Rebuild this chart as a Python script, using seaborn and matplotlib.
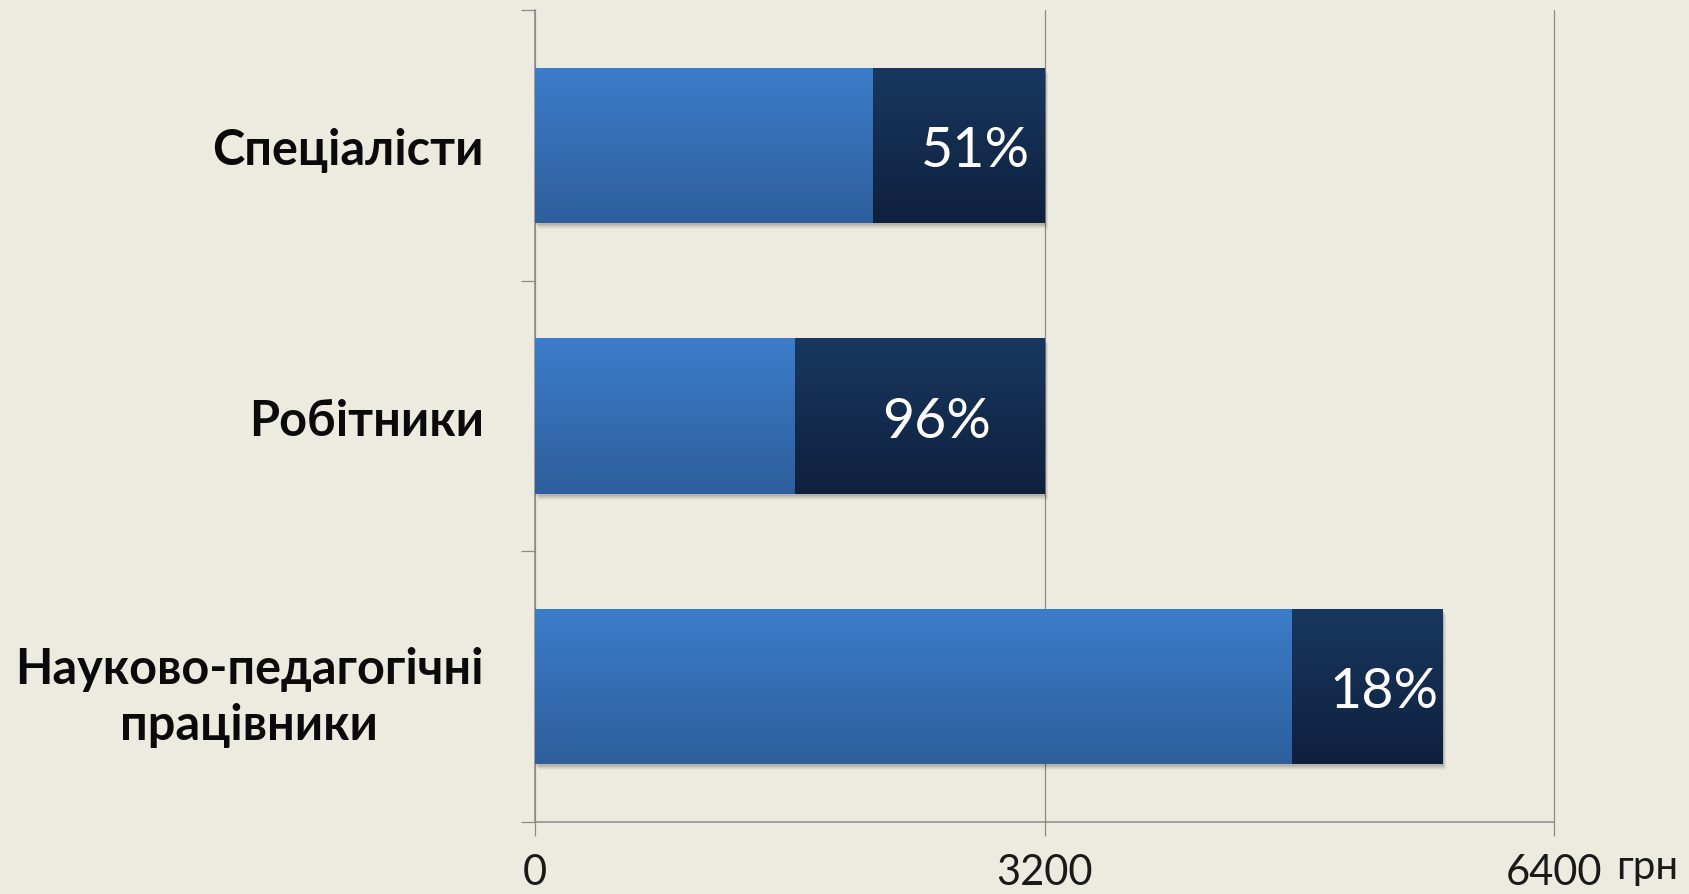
import numpy as np
import pandas as pd
import matplotlib
matplotlib.use("Agg")
import matplotlib.pyplot as plt
import matplotlib.transforms as mtransforms
from matplotlib.patches import Rectangle
import seaborn as sns

# ---- data ----
categories = ["Спеціалісти", "Робітники", "Науково-педагогічні\nпрацівники"]
base_values = [2120, 1630, 4750]      # salary before (light segment end)
total_values = [3200, 3200, 5700]     # salary after (dark segment end)
growth_labels = ["51%", "96%", "18%"]
x_ticks = [0, 3200, 6400]
x_unit = "грн"

BG = "#EDEBE0"
GRID = "#8A8A8A"

sns.set_theme(style="white")
plt.rcParams["font.family"] = ["Lato", "DejaVu Sans"]

fig = plt.figure(figsize=(16.9, 8.95), dpi=100, facecolor=BG)
ax = fig.add_axes([0.3166, 0.0804, 0.6030, 0.9073])
ax.set_facecolor(BG)

df = pd.DataFrame({"cat": categories, "base": base_values, "total": total_values})
BAR_W = 0.573
sns.barplot(data=df, y="cat", x="total", color="#14305A", width=BAR_W,
            saturation=1, ax=ax, zorder=3, linewidth=0)
n_dark = len(ax.patches)
sns.barplot(data=df, y="cat", x="base", color="#3670B8", width=BAR_W,
            saturation=1, ax=ax, zorder=4, linewidth=0)

dark_patches = list(ax.patches[:n_dark])
light_patches = list(ax.patches[n_dark:])


def gradient_fill(patch, top, bottom, z):
    x0, y0 = patch.get_x(), patch.get_y()
    w, h = patch.get_width(), patch.get_height()
    c1 = np.array(matplotlib.colors.to_rgb(top))
    c2 = np.array(matplotlib.colors.to_rgb(bottom))
    t = np.linspace(0, 1, 256)[:, None]
    img = (c1 * (1 - t) + c2 * t)[:, None, :]
    # y axis is inverted: y0 is visually the top edge
    im = ax.imshow(img, extent=(x0, x0 + w, y0 + h, y0), origin="upper",
                   aspect="auto", zorder=z, interpolation="bilinear")
    im.set_clip_path(patch)


# soft drop shadow below/right of each full bar
for p in dark_patches:
    for k, a in zip([6, 5, 4, 3, 2], [0.03, 0.04, 0.05, 0.06, 0.07]):
        tr = mtransforms.offset_copy(ax.transData, fig=fig, x=k * 0.6, y=-k, units="dots")
        ax.add_patch(Rectangle((p.get_x(), p.get_y()), p.get_width(), p.get_height(),
                               transform=tr, facecolor="black", alpha=a,
                               linewidth=0, zorder=2))

for p in dark_patches:
    gradient_fill(p, "#18385F", "#0F203D", 3.5)
for p in light_patches:
    gradient_fill(p, "#3C7DCB", "#2E5E9C", 4.5)

# growth labels inside the dark segment
for i, lab in enumerate(growth_labels):
    xc = (base_values[i] + total_values[i]) / 2
    ax.annotate(lab, xy=(xc, i), xytext=(12, 0), textcoords="offset points",
                ha="center", va="center_baseline", color="white", fontsize=40,
                zorder=6)

# axes limits
ax.set_xlim(x_ticks[0], x_ticks[-1])
ax.set_ylim(len(categories) - 0.5, -0.5)

# x axis
ax.set_xticks(x_ticks)
ax.set_xticklabels([str(v) for v in x_ticks], fontsize=30, color="#1A1A1A")
ax.tick_params(axis="x", which="major", length=10, width=0.9, color=GRID,
               pad=12, direction="out", bottom=True)
ax.grid(axis="x", color=GRID, linewidth=0.9, zorder=0)
ax.set_axisbelow(True)
for gl in ax.get_xgridlines():
    gl.set_clip_on(False)

# y axis: labels at categories, ticks at boundaries
ax.set_yticks(range(len(categories)))
ax.set_yticklabels(categories, fontsize=35, fontweight="bold", color="#0A0A0A",
                   multialignment="center")
for t in ax.get_yticklabels():
    t.set_linespacing(1.3)
ax.set_yticks(np.arange(-0.5, len(categories), 1.0), minor=True)
ax.tick_params(axis="y", which="major", length=0, pad=37, left=True)
ax.tick_params(axis="y", which="minor", length=10, width=0.9, color=GRID,
               direction="out", left=True)
ax.set_xlabel("")
ax.set_ylabel("")

for s in ["top", "right"]:
    ax.spines[s].set_visible(False)
for s in ["left", "bottom"]:
    ax.spines[s].set_color(GRID)
    ax.spines[s].set_linewidth(1.1)

ax.annotate(x_unit, xy=(1, 0), xycoords="axes fraction", xytext=(45, -40),
            textcoords="offset points", ha="left", va="baseline",
            fontsize=29, color="#1A1A1A", annotation_clip=False)

fig.savefig("out.png", dpi=100, facecolor=BG)
